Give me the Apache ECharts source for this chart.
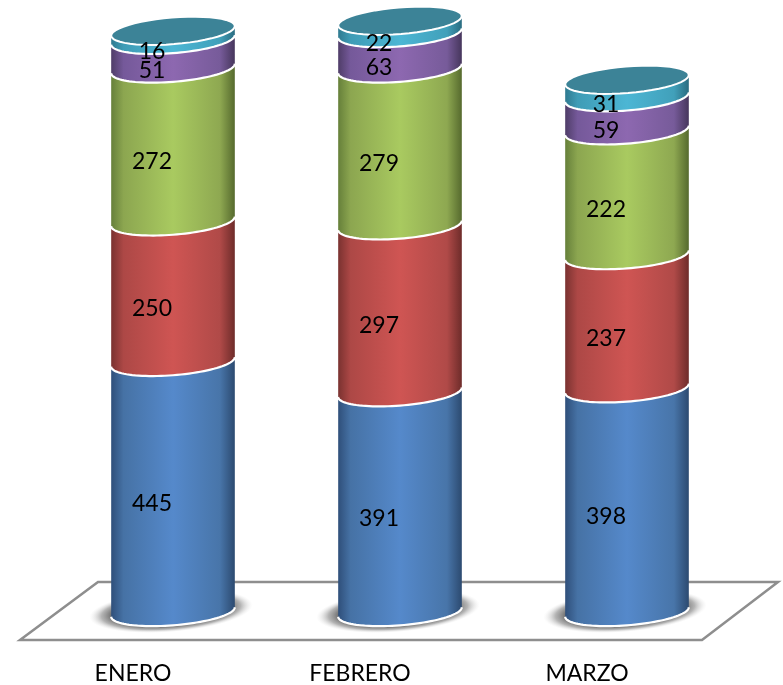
<!DOCTYPE html>
<html>
<head>
<meta charset="utf-8">
<title>Totales por mes</title>
<style>
html, body { margin: 0; padding: 0; background: #ffffff; }
#chart { width: 783px; height: 685px; }
</style>
<script src="https://cdn.jsdelivr.net/npm/echarts@6/dist/echarts.min.js"></script>
</head>
<body>
<div id="chart"></div>
<script>
// Monthly values, one list per stacked band (bottom to top)
const months = ['ENERO', 'FEBRERO', 'MARZO'];
const serieAzul = [445, 391, 398];
const serieRoja = [250, 297, 237];
const serieVerde = [272, 279, 222];
const serieMorada = [51, 63, 59];
const serieCian = [16, 22, 31];

// Cylinder colours: [near edge, shoulder, highlight, shoulder, far edge]
const bandColours = [
  ['#2f4f7a', '#4672a5', '#5589cb', '#4875a9', '#2c4a70'],
  ['#7a3230', '#ad4846', '#cf5553', '#b04a48', '#6e2c2a'],
  ['#66803a', '#8ca650', '#a9ca60', '#8ea851', '#566a2e'],
  ['#4f3d68', '#75599a', '#8d68b0', '#775b9a', '#46365c'],
  ['#2f7a90', '#3f9cb6', '#4cb6d4', '#41a0ba', '#2a6c80']
];
const capColour = '#3c8397';

// Tilted ellipse shared by every band section
const RX = 62;
const RY = 13.3;
const TILT = 4.6 * Math.PI / 180;
const T0 = Math.atan2(RY * Math.sin(TILT), RX * Math.cos(TILT));

function ellipsePoint(cx, cy, t) {
  const c = Math.cos(t), s = Math.sin(t);
  return [
    cx + RX * c * Math.cos(TILT) + RY * s * Math.sin(TILT),
    cy - RX * c * Math.sin(TILT) + RY * s * Math.cos(TILT)
  ];
}
function arc(cx, cy, from, to) {
  const pts = [];
  const n = 48;
  for (let i = 0; i <= n; i++) {
    pts.push(ellipsePoint(cx, cy, from + (to - from) * i / n));
  }
  return pts;
}

const bands = [serieAzul, serieRoja, serieVerde, serieMorada, serieCian];

// Running totals give each band section its lower and upper value
function stackedRows(bandIndex) {
  return months.map((_, m) => {
    let base = 0;
    for (let b = 0; b < bandIndex; b++) base += bands[b][m];
    return [m, base + bands[bandIndex][m], base, bands[bandIndex][m]];
  });
}

function renderBand(bandIndex) {
  const stops = bandColours[bandIndex];
  return function (params, api) {
    const m = api.value(0);
    const top = api.coord([m, api.value(1)]);
    const bottom = api.coord([m, api.value(2)]);
    const cx = top[0];
    const frontTop = arc(cx, top[1], T0, T0 + Math.PI);
    const frontBottom = arc(cx, bottom[1], T0, T0 + Math.PI);
    const children = [{
      type: 'polygon',
      shape: { points: frontTop.concat(frontBottom.slice().reverse()) },
      style: {
        fill: {
          type: 'linear', x: 0, y: 0, x2: 1, y2: 0,
          colorStops: [
            { offset: 0, color: stops[0] },
            { offset: 0.1, color: stops[1] },
            { offset: 0.5, color: stops[2] },
            { offset: 0.88, color: stops[3] },
            { offset: 1, color: stops[4] }
          ]
        }
      }
    }, {
      type: 'polyline',
      shape: { points: frontBottom },
      style: { stroke: '#ffffff', lineWidth: 2.2, fill: null }
    }];
    if (bandIndex === bands.length - 1) {
      children.push({
        type: 'polygon',
        shape: { points: arc(cx, top[1], 0, Math.PI * 2) },
        style: { fill: capColour, stroke: '#ffffff', lineWidth: 2 }
      });
    }
    children.push({
      type: 'text',
      style: {
        x: cx - 21,
        y: (top[1] + bottom[1]) / 2 + 16.5,
        text: String(api.value(3)),
        font: '23px Lato',
        fill: '#000000',
        align: 'center',
        verticalAlign: 'middle'
      }
    });
    return { type: 'group', children };
  };
}

// Soft contact shadow under each cylinder: a unit disc scaled into a tilted ellipse
function renderShadow(params, api) {
  const p = api.coord([api.value(0), 0]);
  return {
    type: 'circle',
    x: p[0] - 2,
    y: p[1] - 1,
    scaleX: 82,
    scaleY: 21,
    rotation: TILT,
    shape: { cx: 0, cy: 0, r: 1 },
    style: {
      fill: {
        type: 'radial', x: 0.5, y: 0.5, r: 0.5,
        colorStops: [
          { offset: 0, color: '#606060' },
          { offset: 0.7, color: '#606060' },
          { offset: 0.85, color: 'rgba(130,130,130,0.6)' },
          { offset: 1, color: 'rgba(220,220,220,0)' }
        ]
      }
    }
  };
}

const chart = echarts.init(document.getElementById('chart'), null, { renderer: 'canvas' });

const series = [{
  type: 'custom',
  name: 'Sombra',
  silent: true,
  clip: false,
  renderItem: renderShadow,
  data: months.map((_, m) => [m, 0]),
  encode: { x: 0, y: 1 },
  z: 3
}].concat(bands.map((_, b) => ({
  type: 'custom',
  name: 'Serie ' + (b + 1),
  clip: false,
  renderItem: renderBand(b),
  data: stackedRows(b),
  encode: { x: 0, y: 1 },
  z: 4 + b
})));

chart.setOption({
  animation: false,
  backgroundColor: '#ffffff',
  // Floor plane sitting behind the cylinders
  graphic: [{
    type: 'polygon',
    z: 1,
    silent: true,
    shape: { points: [[98, 582], [778, 582], [702, 640], [20, 640]] },
    style: { fill: '#ffffff', stroke: '#8e8e8e', lineWidth: 2.5 }
  }],
  grid: { left: 59.5, right: 42.5, top: 5, bottom: 73 },
  xAxis: {
    type: 'category',
    data: months,
    axisLine: { show: false },
    axisTick: { show: false },
    axisLabel: {
      margin: 50,
      fontFamily: 'Lato',
      fontSize: 23,
      color: '#000000',
      padding: [0, 80, 0, 0]
    }
  },
  yAxis: {
    type: 'value',
    min: 0,
    max: 1080,
    show: false
  },
  series
});
</script>
</body>
</html>
